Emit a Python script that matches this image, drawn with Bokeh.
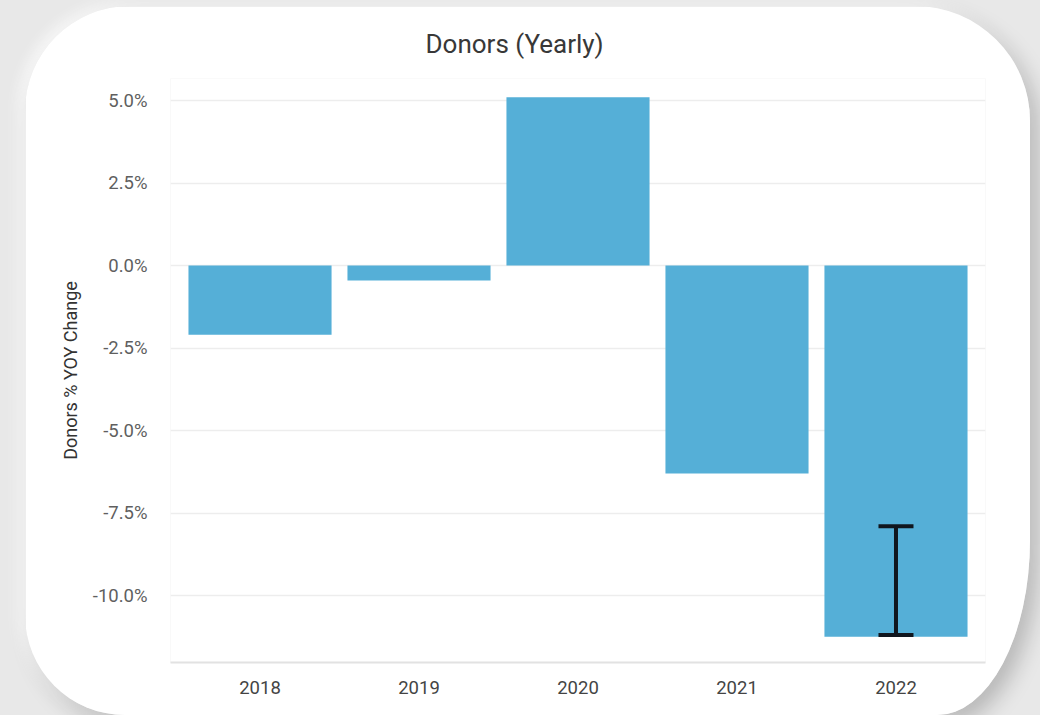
from bokeh.plotting import figure
from bokeh.models import (ColumnDataSource, FactorRange, Range1d, FixedTicker,
                          Whisker, TeeHead, Spacer)
from bokeh.layouts import column, row
from bokeh.embed import file_html
from bokeh.resources import INLINE

# ---- data ----
years = ["2018", "2019", "2020", "2021", "2022"]
yoy_change = [-2.1, -0.45, 5.1, -6.3, -11.25]
err_year = ["2022"]
err_upper = [-7.9]
err_lower = [-11.2]
y_ticks = [5.0, 2.5, 0.0, -2.5, -5.0, -7.5, -10.0]
y_tick_labels = ["5.0%", "2.5%", "0.0%", "-2.5%", "-5.0%", "-7.5%", "-10.0%"]
title_text = "Donors (Yearly)"
y_label = "Donors % YOY Change"

FONT = "Roboto"
W, H = 1005, 709

p = figure(width=W, height=H,
           x_range=FactorRange(factors=years, range_padding=0.063,
                               range_padding_units="absolute"),
           y_range=Range1d(-12.03, 5.67),
           output_backend="svg", toolbar_location=None,
           min_border_left=145, min_border_right=45,
           min_border_top=72, min_border_bottom=53,
           styles={
               "border-radius": "105px 115px 93px 100px / 105px 115px 175px 100px",
               "overflow": "hidden",
               "box-shadow": "8px 10px 22px rgba(0,0,0,0.22), -6px -2px 14px rgba(255,255,255,0.9)",
           })

p.border_fill_color = "white"
p.background_fill_color = "white"
p.outline_line_color = None

# title
p.title.text = title_text
p.title.align = "left"
p.title.offset = 255
p.title.standoff = 40
p.title.text_font = FONT
p.title.text_font_size = "26px"
p.title.text_font_style = "normal"
p.title.text_color = "#383838"

# bars
src = ColumnDataSource(dict(year=years, change=yoy_change))
p.vbar(x="year", top="change", bottom=0, width=0.9, source=src,
       fill_color="#55afd7", line_color=None)

# error bar
esrc = ColumnDataSource(dict(year=err_year, upper=err_upper, lower=err_lower))
wcol = "#10161e"
wh = Whisker(base="year", upper="upper", lower="lower", source=esrc,
             line_color=wcol, line_width=4, level="overlay",
             upper_head=TeeHead(size=35, line_width=4, line_color=wcol),
             lower_head=TeeHead(size=35, line_width=4, line_color=wcol))
p.add_layout(wh)

# grid
p.xgrid.grid_line_color = None
p.ygrid.grid_line_color = "#ededed"
p.ygrid.grid_line_width = 1.5

# y axis
p.yaxis.ticker = FixedTicker(ticks=y_ticks)
p.yaxis.major_label_overrides = {t: l for t, l in zip(y_ticks, y_tick_labels)}
p.yaxis.axis_line_color = None
p.yaxis.major_tick_line_color = None
p.yaxis.minor_tick_line_color = None
p.yaxis.major_label_standoff = 17
p.yaxis.major_label_text_font = FONT
p.yaxis.major_label_text_font_size = "18.5px"
p.yaxis.major_label_text_color = "#5f5f5f"
p.yaxis.axis_label = y_label
p.yaxis.axis_label_text_font = FONT
p.yaxis.axis_label_text_font_style = "normal"
p.yaxis.axis_label_text_font_size = "18px"
p.yaxis.axis_label_text_color = "#333333"
p.yaxis.axis_label_standoff = 9

# x axis
p.xaxis.axis_line_color = "#e2e2e2"
p.xaxis.axis_line_width = 2
p.xaxis.major_tick_line_color = None
p.xaxis.minor_tick_line_color = None
p.xaxis.major_label_standoff = 12
p.xaxis.major_label_text_font = FONT
p.xaxis.major_label_text_font_size = "18.5px"
p.xaxis.major_label_text_color = "#444444"

page = column(Spacer(width=1040, height=6),
              row(Spacer(width=25, height=H), p, width=1040, height=H),
              width=1040, height=715,
              styles={"background-color": "#e8e8e8"})

open("out.html", "w").write(file_html(page, INLINE))
